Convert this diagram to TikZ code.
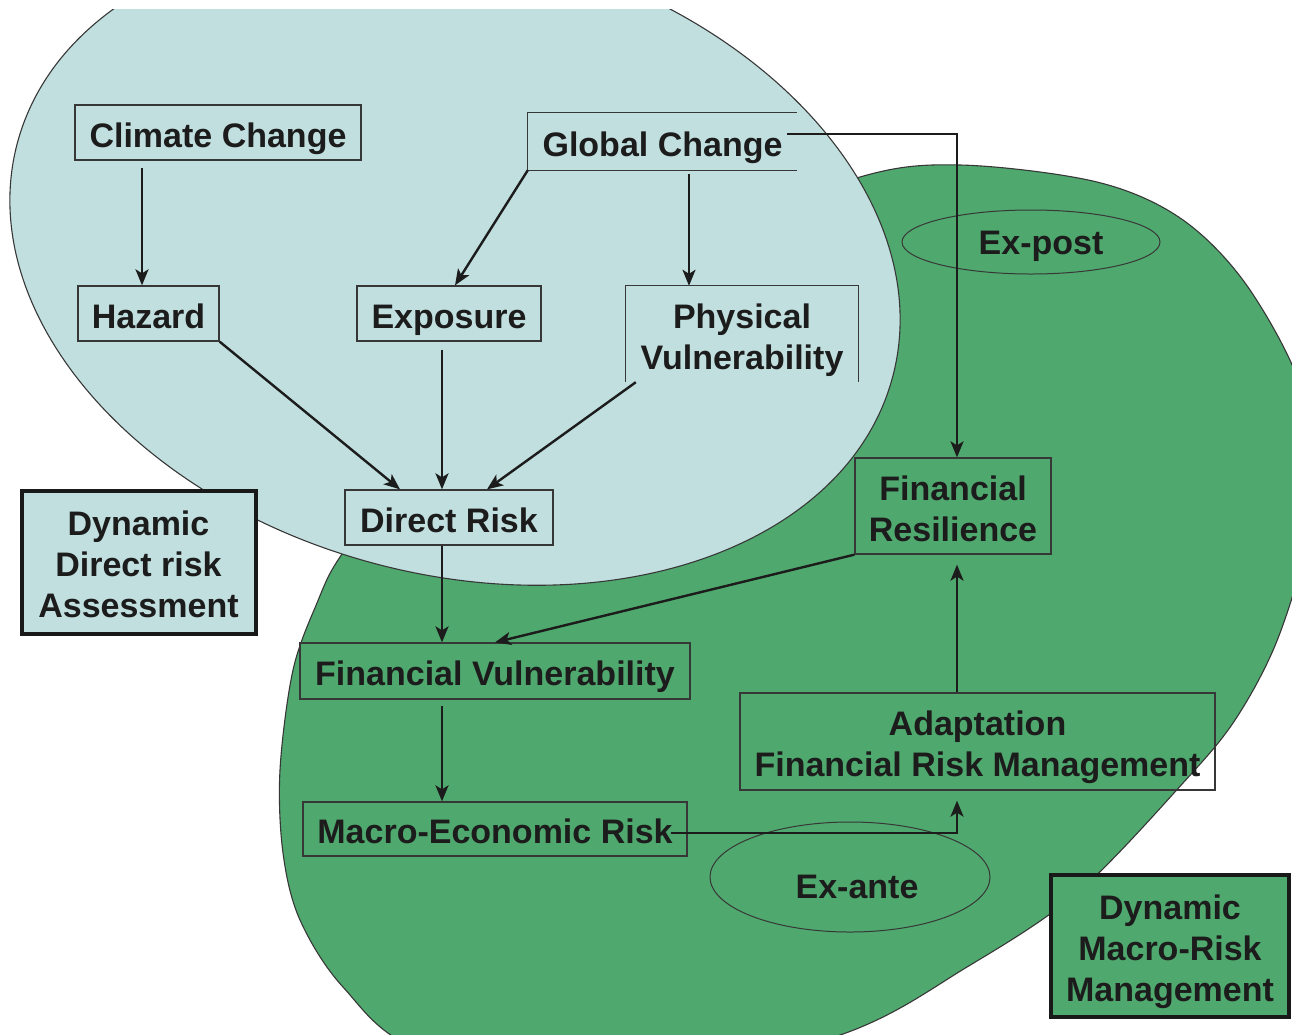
\documentclass[tikz,border=0pt]{standalone}
\usepackage{fontspec}
\setmainfont{Liberation Sans}
\usetikzlibrary{arrows.meta,shapes.geometric,calc}
\definecolor{bluefill}{RGB}{193,223,223}
\definecolor{greenfill}{RGB}{79,168,110}
\definecolor{ink}{RGB}{28,28,28}
\definecolor{edge}{RGB}{55,55,55}
\newcommand\Tst{\rule{0pt}{37pt}}
\newcommand\Bst{\rule[-8pt]{0pt}{8pt}}
\begin{document}
\begin{tikzpicture}[x=1pt,y=-1pt,
  lbl/.style={font=\fontsize{34}{41}\selectfont\bfseries, text=ink, align=center, inner sep=0pt},
  box/.style={lbl, draw=edge, line width=1.3pt},
  boxline/.style={draw=edge, line width=1.3pt},
  bigbox/.style={lbl, draw=black!90, line width=4pt},
  oval/.style={lbl, ellipse, draw=edge, line width=1pt},
  arr/.style={draw=ink, line width=2.4pt, -{Stealth[length=16pt,width=13pt,inset=4pt]}},
  region/.style={draw=edge, line width=1.1pt}]
\useasboundingbox (0,0) rectangle (1292,1034);
\begin{scope}
  \clip (0,9) rectangle (1292,1034);
  \draw[region, fill=greenfill] plot[smooth cycle, tension=0.55] coordinates {
    (340,557) (317,603) (293,670) (280,770) (283,853) (300,920) (343,987)
    (420,1050) (620,1090) (843,1034) (967,967) (1077,893) (1183,783)
    (1237,717) (1280,633) (1310,520) (1305,400) (1250,290) (1183,220)
    (1097,182) (960,165) (860,177) (700,240) (520,380) (400,480)};
  \draw[region, fill=bluefill, rotate around={-15:(455,260)}] (455,260) ellipse (453 and 314);
\end{scope}

\coordinate (c1) at (142,0);
\coordinate (c2) at (689,0);
\coordinate (c3) at (442,0);
\coordinate (c4) at (957,0);

\node[bigbox, fill=bluefill, minimum width=234pt, minimum height=143pt] (dda) at (138.5,562) {\Tst Dynamic\\Direct risk\\Assessment\Bst};
\node[bigbox, fill=greenfill, minimum width=238pt, minimum height=142pt] (dmm) at (1170,946) {\Tst Dynamic\\Macro-Risk\\Management\Bst};

\node[box, minimum width=286pt, minimum height=55pt] (cc) at (218,132.5) {\Tst Climate Change\Bst};
\node[lbl, minimum width=269pt, minimum height=57pt] (gc) at (662.5,141.5) {\Tst Global Change\Bst};
\draw[boxline] (gc.north east) -- (gc.north west) -- (gc.south west) -- (gc.south east);
\node[box, minimum width=141pt, minimum height=55pt] (hz) at (148.5,313.5) {\Tst Hazard\Bst};
\node[box, minimum width=184pt, minimum height=55pt] (ex) at (449,313.5) {\Tst Exposure\Bst};
\node[lbl, minimum width=232pt, minimum height=96pt] (pv) at (742,334) {\Tst Physical\\Vulnerability\Bst};
\draw[boxline] (pv.south west) -- (pv.north west) -- (pv.north east) -- (pv.south east);
\node[box, minimum width=208pt, minimum height=55pt] (dr) at (449,517.5) {\Tst Direct Risk\Bst};
\node[box, minimum width=196pt, minimum height=96pt] (fr) at (953,506) {\Tst Financial\\Resilience\Bst};
\node[box, minimum width=390pt, minimum height=56pt] (fv) at (495,671) {\Tst Financial Vulnerability\Bst};
\node[box, minimum width=384pt, minimum height=54pt] (me) at (495,829) {\Tst Macro-Economic Risk\Bst};
\node[box, minimum width=475pt, minimum height=97pt] (ad) at (977.5,741.5) {\Tst Adaptation\\Financial Risk Management\Bst};
\node[oval, minimum width=258pt, minimum height=64pt] (ep) at (1031,242) {\hspace*{20pt}\rule{0pt}{32pt}Ex-post\Bst};
\node[oval, minimum width=280pt, minimum height=110pt] (ea) at (850,877) {\hspace*{14pt}\rule{0pt}{50pt}Ex-ante\Bst};

\draw[arr] ([yshift=-7pt]cc.south -| c1) -- (hz.north -| c1);
\draw[arr] (gc.south west) -- ([xshift=6pt]ex.north);
\draw[arr] ([yshift=-4pt]gc.south -| c2) -- (pv.north -| c2);
\draw[arr] (hz.south east) -- ([xshift=-49pt]dr.north);
\draw[arr] ([yshift=-8pt]ex.south -| c3) -- (dr.north -| c3);
\draw[arr] ([xshift=10pt]pv.south west) -- ([xshift=38pt]dr.north);
\draw[arr] (dr.south -| c3) -- (fv.north -| c3);
\draw[arr] (fr.south west) -- (fv.north);
\draw[arr] ([yshift=-6pt]fv.south -| c3) -- (me.north -| c3);
\draw[arr] ([xshift=-17pt,yshift=-4pt]me.east) -| ([yshift=-10pt]ad.south -| c4);
\draw[arr] (ad.north -| c4) -- ([yshift=-10pt]fr.south -| c4);
\draw[arr] ([xshift=-10pt,yshift=7.5pt]gc.east) -| (fr.north -| c4);
\end{tikzpicture}
\end{document}
